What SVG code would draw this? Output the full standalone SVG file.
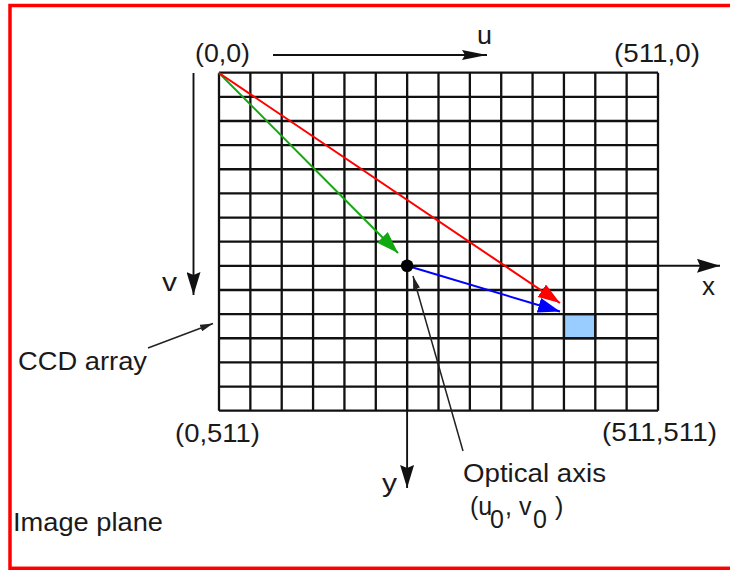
<svg xmlns="http://www.w3.org/2000/svg" width="730" height="570" viewBox="0 0 730 570">
  <style>
    text { font-family: "Liberation Sans", Arial, Helvetica, sans-serif; font-size: 25px; fill: #1a1a1a; }
    .grid { fill: none; stroke: #111; stroke-width: 2.3; }
    .ax { fill: none; stroke: #111; stroke-width: 1.9; }
    .ptr { fill: none; stroke: #222; stroke-width: 1.5; }
  </style>
  <defs>
    <marker id="ahBlack" markerUnits="userSpaceOnUse" viewBox="0 0 23 14" markerWidth="23" markerHeight="14" refX="23" refY="7" orient="auto">
      <path d="M0,0 L23,7 L0,14 L3,7 z" fill="#111"/>
    </marker>
    <marker id="ahU" markerUnits="userSpaceOnUse" viewBox="0 0 25 10" markerWidth="25" markerHeight="10" refX="25" refY="5" orient="auto">
      <path d="M0,0 L25,5 L0,10 L3,5 z" fill="#111"/>
    </marker>
    <marker id="ahSmall" markerUnits="userSpaceOnUse" viewBox="0 0 13 7" markerWidth="13" markerHeight="7" refX="13" refY="3.5" orient="auto">
      <path d="M0,0 L13,3.5 L0,7 z" fill="#222"/>
    </marker>
    <marker id="ahGreen" markerUnits="userSpaceOnUse" viewBox="0 0 22 15" markerWidth="22" markerHeight="15" refX="22" refY="7.5" orient="auto">
      <path d="M0,0 L22,7.5 L0,15 z" fill="#12a812"/>
    </marker>
    <marker id="ahRed" markerUnits="userSpaceOnUse" viewBox="0 0 22 15" markerWidth="22" markerHeight="15" refX="22" refY="7.5" orient="auto">
      <path d="M0,0 L22,7.5 L0,15 z" fill="#ff0000"/>
    </marker>
    <marker id="ahBlue" markerUnits="userSpaceOnUse" viewBox="0 0 22 15" markerWidth="22" markerHeight="15" refX="22" refY="7.5" orient="auto">
      <path d="M0,0 L22,7.5 L0,15 z" fill="#0000ff"/>
    </marker>
  </defs>

  <rect x="0" y="0" width="730" height="570" fill="#ffffff"/>
  <!-- frame -->
  <rect x="10" y="5.5" width="730" height="562.8" fill="none" stroke="#ff0000" stroke-width="3.5"/>

  <!-- CCD grid -->
  <g id="ccd-grid">
    <rect x="563.93" y="314.13" width="31.36" height="24.14" fill="#99ccff" stroke="#2a3440" stroke-width="2.3"/>
    <path class="grid" d="M219,72.7V410.7 M250.36,72.7V410.7 M281.71,72.7V410.7 M313.07,72.7V410.7 M344.43,72.7V410.7 M375.79,72.7V410.7 M407.14,72.7V410.7 M438.5,72.7V410.7 M469.86,72.7V410.7 M501.21,72.7V410.7 M532.57,72.7V410.7 M563.93,72.7V410.7 M595.29,72.7V410.7 M626.64,72.7V410.7 M658,72.7V410.7
      M219,72.7H658 M219,96.84H658 M219,120.99H658 M219,145.13H658 M219,169.27H658 M219,193.41H658 M219,217.56H658 M219,241.7H658 M219,265.84H658 M219,289.99H658 M219,314.13H658 M219,338.27H658 M219,362.41H658 M219,386.56H658 M219,410.7H658"/>
  </g>

  <!-- connectors -->
  <g id="connectors">
    <path class="ax" d="M273,55H487" marker-end="url(#ahU)"/>
    <path class="ax" d="M193.5,73V295" marker-end="url(#ahBlack)"/>
    <path class="ax" d="M407.1,265.8H720" marker-end="url(#ahBlack)"/>
    <path class="ax" d="M407.1,265.8V488" marker-end="url(#ahBlack)"/>
    <path d="M219,73L398,253" stroke="#12a812" stroke-width="2" fill="none" marker-end="url(#ahGreen)"/>
    <path d="M219,73L560,303" stroke="#ff0000" stroke-width="2" fill="none" marker-end="url(#ahRed)"/>
    <path d="M407.1,265.8L560,311.5" stroke="#0000ff" stroke-width="2" fill="none" marker-end="url(#ahBlue)"/>
    <path class="ptr" d="M148,348L213,323.5" marker-end="url(#ahSmall)"/>
    <path class="ptr" d="M463,451L413,276" marker-end="url(#ahSmall)"/>
  </g>

  <!-- optical centre -->
  <g id="optical-centre">
    <circle cx="407.1" cy="265.8" r="6.3" fill="#000"/>
  </g>

  <!-- labels -->
  <g id="label-origin"><text x="195" y="62" textLength="55" lengthAdjust="spacingAndGlyphs">(0,0)</text></g>
  <g id="label-u"><text x="477" y="44" textLength="15" lengthAdjust="spacingAndGlyphs">u</text></g>
  <g id="label-511-0"><text x="614" y="62" textLength="86" lengthAdjust="spacingAndGlyphs">(511,0)</text></g>
  <g id="label-v"><text x="162" y="290.5" textLength="15" lengthAdjust="spacingAndGlyphs">v</text></g>
  <g id="label-x"><text x="702" y="295" textLength="13" lengthAdjust="spacingAndGlyphs">x</text></g>
  <g id="label-ccd"><text x="18" y="370" textLength="129" lengthAdjust="spacingAndGlyphs">CCD array</text></g>
  <g id="label-0-511"><text x="175" y="442" textLength="85" lengthAdjust="spacingAndGlyphs">(0,511)</text></g>
  <g id="label-511-511"><text x="602" y="441" textLength="115" lengthAdjust="spacingAndGlyphs">(511,511)</text></g>
  <g id="label-y"><text x="382" y="492" textLength="15" lengthAdjust="spacingAndGlyphs">y</text></g>
  <g id="label-optical">
    <text x="463" y="481.5" textLength="143" lengthAdjust="spacingAndGlyphs">Optical axis</text>
    <text><tspan x="470" y="515">(u</tspan><tspan x="490" y="528">0</tspan><tspan x="505" y="515">, v</tspan><tspan x="533" y="528">0</tspan><tspan x="555" y="515">)</tspan></text>
  </g>
  <g id="label-image-plane"><text x="13" y="531" textLength="150" lengthAdjust="spacingAndGlyphs">Image plane</text></g>
</svg>
